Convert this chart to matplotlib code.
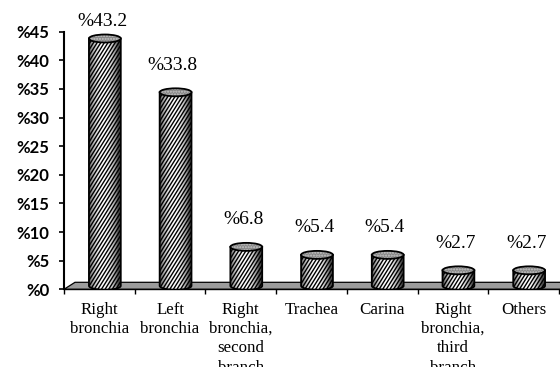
import matplotlib
matplotlib.use("Agg")
import matplotlib.pyplot as plt
import numpy as np
from matplotlib.patches import Polygon, Ellipse, PathPatch
from matplotlib.path import Path
from matplotlib.collections import LineCollection

categories = ["Right\nbronchia", "Left\nbronchia", "Right\nbronchia,\nsecond\nbranch",
              "Trachea", "Carina", "Right\nbronchia,\nthird\nbranch", "Others"]
values = [43.2, 33.8, 6.8, 5.4, 5.4, 2.7, 2.7]
y_ticks = [0, 5, 10, 15, 20, 25, 30, 35, 40, 45]
y_tick_labels = ["%" + str(t) for t in y_ticks]

W, H = 560, 367
fig = plt.figure(figsize=(W / 100, H / 100), dpi=100)
ax_left, ax_bottom, ax_w, ax_h = 64, 289.3, 495, 257.6
ax = fig.add_axes([ax_left / W, (H - ax_bottom) / H, ax_w / W, ax_h / H])

n = len(categories)
ymax = y_ticks[-1]
ax.set_xlim(0, n)
ax.set_ylim(0, ymax)

# pixel <-> data conversions
ux = n / ax_w
uy = ymax / ax_h
dx, dy = 11 * ux, 7 * uy

# grey floor slab
floor = Polygon([(0, 0), (n + 1, 0), (n + 1 + dx, dy), (dx, dy)], closed=True,
                facecolor="#9c9c9c", edgecolor="black", lw=0.9, zorder=1, clip_on=False)
ax.add_patch(floor)

# cylinders
bar_w = 0.45
eh = 8 * uy
shade = np.linspace(0, 1, 80)
grad = (0.30 + 0.70 * np.sin(np.pi * np.clip(shade * 1.1, 0, 1)) ** 0.7)[None, :]
stripe_gap_px = 3.6
stripe_slope = np.tan(np.radians(58))

for i, v in enumerate(values):
    cx = i + 0.5 + dx / 2
    base = dy / 2
    top = v + dy / 2
    xl, xr = cx - bar_w / 2, cx + bar_w / 2
    t = np.linspace(np.pi, 2 * np.pi, 40)
    lower = np.column_stack([cx + bar_w / 2 * np.cos(t), base + eh / 2 * np.sin(t)])
    verts = np.vstack([[xl, top], [xl, base], lower, [xr, base], [xr, top], [xl, top]])
    body_path = Path(verts, closed=True)
    clip = PathPatch(body_path, transform=ax.transData, facecolor="none", edgecolor="none")
    ax.add_patch(clip)

    # shaded body
    im = ax.imshow(grad, extent=[xl, xr, base - eh, top], aspect="auto",
                   cmap="gray", vmin=0, vmax=1, zorder=2, interpolation="bilinear")
    im.set_clip_path(clip)

    # diagonal stripes
    y0, y1 = base - eh, top
    run = (y1 - y0) / uy / stripe_slope * ux
    starts = np.arange(xl - run, xr + stripe_gap_px * ux, stripe_gap_px * ux)
    segs = [[(s, y0), (s + run, y1)] for s in starts]
    lc = LineCollection(segs, colors="black", linewidths=1.0, zorder=3)
    ax.add_collection(lc)
    lc.set_clip_path(clip)

    ax.add_patch(PathPatch(body_path, facecolor="none", edgecolor="black", lw=1.3, zorder=3.5))
    ax.add_patch(Ellipse((cx, top), bar_w, eh, facecolor="#868686", edgecolor="#c8c8c8",
                         hatch="......", lw=0, zorder=4))
    ax.add_patch(Ellipse((cx, top), bar_w, eh, facecolor="none", edgecolor="black",
                         lw=1.3, zorder=5))

    # value label above the cylinder, kept inside the figure
    top_px = ax_bottom - top * ax_h / ymax
    label_px = max(top_px - 27, 21)
    ax.annotate("%" + str(v), xy=(i + 0.5 + dx / 4, top),
                xytext=(0, (top_px - label_px) * 0.72),
                textcoords="offset points", ha="center", va="center",
                fontsize=14, family="Liberation Serif", color="black", zorder=6,
                annotation_clip=False)

ax.set_xlim(0, n)
ax.set_ylim(0, ymax)

# axes styling
for s in ["top", "right"]:
    ax.spines[s].set_visible(False)
ax.spines["left"].set_linewidth(1.5)
ax.spines["bottom"].set_linewidth(1.0)
ax.spines["left"].set_zorder(7)
ax.set_yticks(y_ticks)
ax.set_yticklabels(y_tick_labels, fontsize=12, fontweight="bold", family="Lato")
ax.tick_params(axis="y", direction="out", length=3.6, width=1.2, pad=7)

ax.set_xticks(np.arange(n + 1))
ax.set_xticklabels([])
ax.set_xticks(np.arange(n) + 0.5, minor=True)
ax.set_xticklabels(categories, minor=True, fontsize=12.2, family="Liberation Serif",
                   linespacing=1.27, va="top")
ax.tick_params(axis="x", which="major", direction="out", length=3.5, width=1.0)
ax.tick_params(axis="x", which="minor", length=0, pad=9)

fig.savefig("out.png", dpi=100)
